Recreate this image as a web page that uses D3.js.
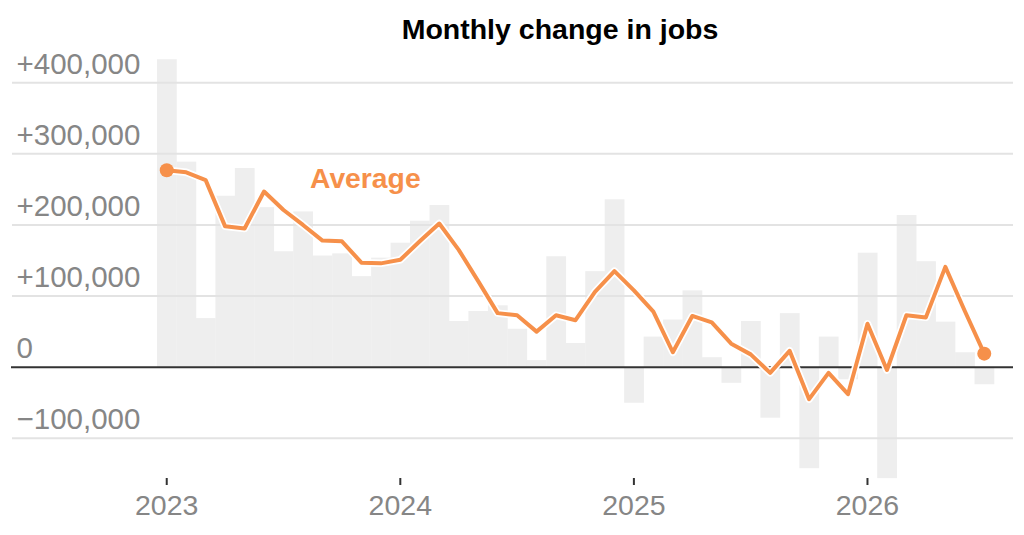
<!DOCTYPE html>
<html>
<head>
<meta charset="utf-8">
<script src="https://cdn.jsdelivr.net/npm/d3@7/dist/d3.min.js"></script>
<style>
  html, body { margin: 0; padding: 0; background: #fff; }
  svg { display: block; }
</style>
</head>
<body>
<svg id="chart" width="1024" height="535"></svg>
<script>
// ---- Data (thousands of jobs) ----
const months = [
  "2023-01","2023-02","2023-03","2023-04","2023-05","2023-06","2023-07","2023-08","2023-09","2023-10","2023-11","2023-12",
  "2024-01","2024-02","2024-03","2024-04","2024-05","2024-06","2024-07","2024-08","2024-09","2024-10","2024-11","2024-12",
  "2025-01","2025-02","2025-03","2025-04","2025-05","2025-06","2025-07","2025-08","2025-09","2025-10","2025-11","2025-12",
  "2026-01","2026-02","2026-03","2026-04","2026-05","2026-06","2026-07"
];
const monthlyChange = [
  433, 289, 69, 241, 280, 225, 163, 219, 157, 160, 128, 154,
  175, 206, 228, 65, 79, 87, 54, 10, 156, 34, 135, 236,
  -50, 43, 67, 108, 14, -22, 65, -71, 76, -142, 43, -17,
  161, -156, 214, 149, 64, 21, -24
];
const average = [
  277, 274, 263, 198, 195, 247, 221, 200, 178, 177, 147, 146,
  151, 177, 202, 165, 121, 76, 73, 50, 73, 66, 106, 135,
  108, 78, 21, 72, 63, 33, 18, -8, 23, -45, -8, -38,
  61, -4, 73, 70, 141, 79, 19
];
const yTicks = [400, 300, 200, 100, 0, -100];
const yTickLabels = ["+400,000", "+300,000", "+200,000", "+100,000", "0", "\u2212100,000"];
const xTickMonths = ["2023-01", "2024-01", "2025-01", "2026-01"];
const xTickLabels = ["2023", "2024", "2025", "2026"];

// ---- Layout ----
const svg = d3.select("#chart");
const fontFamily = "'Liberation Sans', Arial, sans-serif";
const orange = "#f6904a";

const x = d3.scaleBand().domain(months).range([157, 994]).padding(0);
const y = d3.scaleLinear().domain([-100, 400]).range([438.3, 82.7]);

const gridLeft = 12, gridRight = 1013;

// Bars
svg.append("g").selectAll("rect")
  .data(months.map((m, i) => ({ m, v: monthlyChange[i] })))
  .join("rect")
  .attr("x", d => x(d.m))
  .attr("width", x.bandwidth() + 0.3)
  .attr("y", d => Math.min(y(d.v), y(0)))
  .attr("height", d => Math.abs(y(d.v) - y(0)))
  .attr("fill", "#eeeeee");

// Gridlines (non-zero)
svg.append("g").selectAll("line")
  .data(yTicks.filter(t => t !== 0))
  .join("line")
  .attr("x1", gridLeft).attr("x2", gridRight)
  .attr("y1", d => y(d)).attr("y2", d => y(d))
  .attr("stroke", "#e3e3e3")
  .attr("stroke-width", 2);

// Y labels
svg.append("g").selectAll("text")
  .data(yTicks)
  .join("text")
  .attr("x", 16.5)
  .attr("y", d => y(d) - 9)
  .attr("font-family", fontFamily)
  .attr("font-size", 29.5)
  .attr("fill", "#868686")
  .text((d, i) => yTickLabels[i]);

// Zero line
svg.append("line")
  .attr("x1", 11).attr("x2", gridRight)
  .attr("y1", y(0)).attr("y2", y(0))
  .attr("stroke", "#333")
  .attr("stroke-width", 2);

// X ticks & labels
const xc = m => x(m) + x.bandwidth() / 2;
const xt = svg.append("g");
xt.selectAll("line")
  .data(xTickMonths)
  .join("line")
  .attr("x1", xc).attr("x2", xc)
  .attr("y1", 478).attr("y2", 485)
  .attr("stroke", "#333")
  .attr("stroke-width", 2);
xt.selectAll("text")
  .data(xTickMonths)
  .join("text")
  .attr("x", xc)
  .attr("y", 515)
  .attr("text-anchor", "middle")
  .attr("font-family", fontFamily)
  .attr("font-size", 28.5)
  .attr("fill", "#868686")
  .text((d, i) => xTickLabels[i]);

// Average line
const pts = months.map((m, i) => [xc(m), y(average[i])]);
const line = d3.line();
svg.append("path")
  .attr("d", line(pts))
  .attr("fill", "none")
  .attr("stroke", "#fff")
  .attr("stroke-width", 7.5)
  .attr("stroke-linejoin", "round");
svg.append("path")
  .attr("d", line(pts))
  .attr("fill", "none")
  .attr("stroke", orange)
  .attr("stroke-width", 4)
  .attr("stroke-linejoin", "round");

svg.append("g").selectAll("circle")
  .data([pts[0], pts[pts.length - 1]])
  .join("circle")
  .attr("cx", d => d[0]).attr("cy", d => d[1])
  .attr("r", 7)
  .attr("fill", orange);

// Average label
svg.append("text")
  .attr("x", 310)
  .attr("y", 188)
  .attr("font-family", fontFamily)
  .attr("font-weight", "bold")
  .attr("font-size", 28.3)
  .attr("fill", orange)
  .text("Average");

// Title
svg.append("text")
  .attr("x", 560)
  .attr("y", 38.5)
  .attr("text-anchor", "middle")
  .attr("font-family", fontFamily)
  .attr("font-weight", "bold")
  .attr("font-size", 28.5)
  .attr("fill", "#000")
  .text("Monthly change in jobs");
</script>
</body>
</html>
